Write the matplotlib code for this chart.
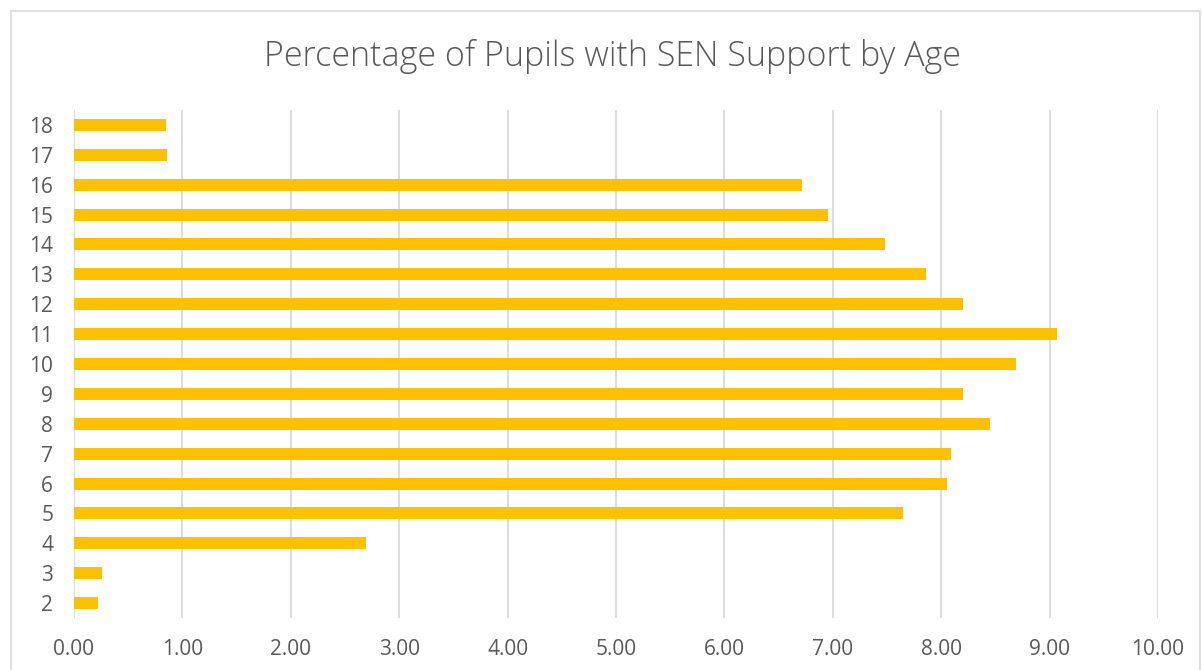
import matplotlib
matplotlib.use("Agg")
import matplotlib.pyplot as plt
from matplotlib.patches import Rectangle

ages = ["2", "3", "4", "5", "6", "7", "8", "9", "10", "11", "12", "13", "14", "15", "16", "17", "18"]
pct_sen = [0.22, 0.26, 2.69, 7.65, 8.05, 8.09, 8.45, 8.20, 8.69, 9.07, 8.20, 7.86, 7.48, 6.96, 6.72, 0.86, 0.85]
x_ticks = [0, 1, 2, 3, 4, 5, 6, 7, 8, 9, 10]

BAR = "#FFC000"
GRID = "#D9D9D9"
TEXT = "#595959"

plt.rcParams["font.family"] = ["Open Sans", "DejaVu Sans"]

fig = plt.figure(figsize=(12.02, 6.70), dpi=100)
ax = fig.add_axes([74 / 1202, 52 / 670, (1158 - 74) / 1202, (618 - 110) / 670])

ax.barh(range(len(ages)), pct_sen, height=0.4, color=BAR, zorder=3)
ax.set_ylim(-0.5, len(ages) - 0.5)
ax.set_xlim(0, 10)
ax.set_xticks(x_ticks)
ax.set_xticklabels([f"{v:.2f}" for v in x_ticks])
ax.set_yticks(range(len(ages)))
ax.set_yticklabels(ages)

ax.grid(axis="x", color=GRID, linewidth=1.3, zorder=0)
for s in ax.spines.values():
    s.set_visible(False)
ax.tick_params(axis="both", length=0, labelsize=15, colors=TEXT)
ax.tick_params(axis="x", pad=15)
ax.tick_params(axis="y", pad=15)

# title sits a little right of figure centre in the original
fig.text(612 / 1202, 1 - 57 / 670, "Percentage of Pupils with SEN Support by Age",
         ha="center", va="center", fontsize=24.5, color=TEXT, fontweight="light")

fig.patches.append(Rectangle((11 / 1202, -0.01), (1200 - 11) / 1202, 1.01 - 11 / 670,
                             transform=fig.transFigure, fill=False,
                             edgecolor=GRID, linewidth=1.2))

fig.savefig("out.png", dpi=100, facecolor="white")
